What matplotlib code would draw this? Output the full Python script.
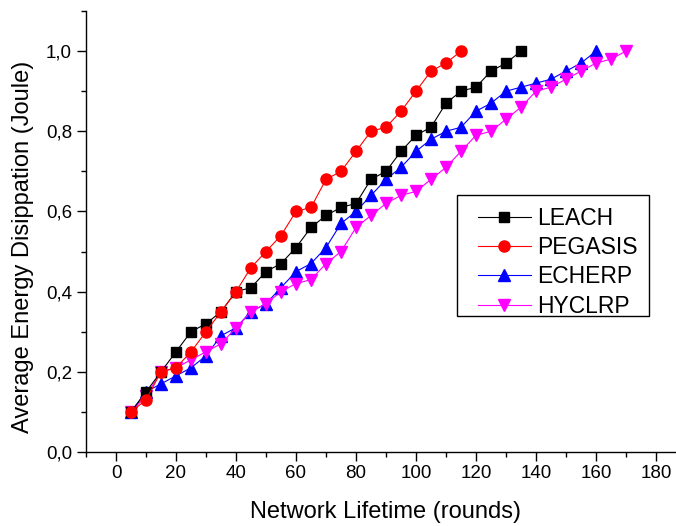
import matplotlib
matplotlib.use("Agg")
import matplotlib.pyplot as plt
from matplotlib.ticker import MultipleLocator, FuncFormatter
from matplotlib.patches import Rectangle

plt.rcParams['font.family'] = ['Liberation Sans', 'DejaVu Sans']

# Network lifetime (rounds) and average energy dissipation per protocol
leach_x = list(range(5, 140, 5))
leach_y = [0.10, 0.15, 0.20, 0.25, 0.30, 0.32, 0.35, 0.40, 0.41, 0.45,
           0.47, 0.51, 0.56, 0.59, 0.61, 0.62, 0.68, 0.70, 0.75, 0.79,
           0.81, 0.87, 0.90, 0.91, 0.95, 0.97, 1.00]

pegasis_x = list(range(5, 120, 5))
pegasis_y = [0.10, 0.13, 0.20, 0.21, 0.25, 0.30, 0.35, 0.40, 0.46, 0.50,
             0.54, 0.60, 0.61, 0.68, 0.70, 0.75, 0.80, 0.81, 0.85, 0.90,
             0.95, 0.97, 1.00]

echerp_x = list(range(5, 165, 5))
echerp_y = [0.10, 0.15, 0.17, 0.19, 0.21, 0.24, 0.29, 0.31, 0.35, 0.37,
            0.41, 0.45, 0.47, 0.51, 0.57, 0.60, 0.64, 0.68, 0.71, 0.75,
            0.78, 0.80, 0.81, 0.85, 0.87, 0.90, 0.91, 0.92, 0.93, 0.95,
            0.97, 1.00]

hyclrp_x = list(range(5, 175, 5))
hyclrp_y = [0.10, 0.14, 0.20, 0.21, 0.23, 0.25, 0.27, 0.31, 0.35, 0.37,
            0.40, 0.42, 0.43, 0.47, 0.50, 0.56, 0.59, 0.62, 0.64, 0.65,
            0.68, 0.71, 0.75, 0.79, 0.80, 0.83, 0.86, 0.90, 0.91, 0.93,
            0.95, 0.97, 0.98, 1.00]

W, H = 676, 526
fig = plt.figure(figsize=(W / 100, H / 100), dpi=100)
ax = fig.add_axes([86 / W, 74 / H, 600 / W, 441 / H])

ax.plot(leach_x, leach_y, color='black', lw=0.8, marker='s', ms=7,
        label='LEACH', zorder=3)
ax.plot(pegasis_x, pegasis_y, color='#ff0000', lw=0.8, marker='o', ms=8,
        label='PEGASIS', zorder=4)
ax.plot(echerp_x, echerp_y, color='#0000ff', lw=0.8, marker='^', ms=8.5,
        label='ECHERP', zorder=2)
ax.plot(hyclrp_x, hyclrp_y, color='#ff00ff', lw=0.8, marker='v', ms=8.5,
        label='HYCLRP', zorder=2.5)

ax.set_xlim(-10, 190)
ax.set_ylim(0, 1.1)
ax.xaxis.set_major_locator(MultipleLocator(20))
ax.xaxis.set_minor_locator(MultipleLocator(10))
ax.yaxis.set_major_locator(MultipleLocator(0.2))
ax.yaxis.set_minor_locator(MultipleLocator(0.1))
ax.yaxis.set_major_formatter(FuncFormatter(lambda v, p: f"{v:.1f}".replace('.', ',')))

for side in ('top', 'right'):
    ax.spines[side].set_visible(False)
for side in ('left', 'bottom'):
    ax.spines[side].set_linewidth(1.0)

ax.tick_params(axis='both', which='major', direction='out', length=6.5,
               width=1.0, labelsize=13.5, pad=3)
ax.tick_params(axis='y', which='major', pad=3.5)
ax.tick_params(axis='both', which='minor', direction='out', length=3.5,
               width=1.0)

ax.set_xlabel('Network Lifetime (rounds)', fontsize=17)
ax.xaxis.set_label_coords(386 / W, 14 / H, transform=fig.transFigure)
ax.xaxis.label.set_verticalalignment('center')
ax.set_ylabel('Average Energy Disippation (Joule)', fontsize=17)
ax.yaxis.set_label_coords(23 / W, (H - 247) / H, transform=fig.transFigure)
ax.yaxis.label.set_verticalalignment('center')

# Legend box, drawn as a separate frame behind the legend entries
ax.add_patch(Rectangle((457 / W, 1 - 316 / H), 192 / W, 121 / H,
                       transform=fig.transFigure, facecolor='white',
                       edgecolor='black', linewidth=1.0, zorder=6,
                       clip_on=False))
leg = ax.legend(loc='upper left', bbox_to_anchor=(478 / W, 1 - 207 / H),
                bbox_transform=fig.transFigure, borderaxespad=0, borderpad=0,
                fontsize=16.5, frameon=False, handlelength=2.3,
                handletextpad=0.3, labelspacing=0.27, numpoints=1)
leg.set_zorder(7)

fig.savefig('out.png', dpi=100)
